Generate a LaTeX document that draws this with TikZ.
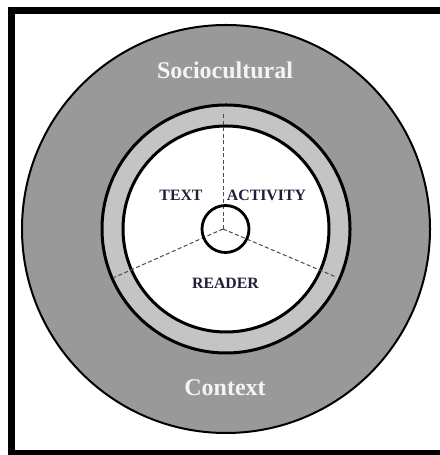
\documentclass[tikz,border=0pt]{standalone}
\usepackage{fontspec}
\setmainfont{Liberation Serif}
\usetikzlibrary{calc}
\definecolor{cdark}{HTML}{999999}
\definecolor{clight}{HTML}{C4C4C4}
\definecolor{cink}{HTML}{1F1F3A}
\definecolor{cpale}{HTML}{F4F4F6}
\definecolor{cdash}{HTML}{4A4A4A}
\tikzset{
  every picture/.style={x=1bp, y=1bp},
  ring/.style={draw=black, line width=#1},
  ring/.default=3bp,
  divider/.style={draw=cdash, line width=1bp, dash pattern=on 4bp off 2.5bp},
  big/.style={font=\fontsize{24bp}{28bp}\selectfont\bfseries, text=cpale, inner sep=0pt},
  part/.style={font=\fontsize{15.8bp}{18bp}\selectfont\bfseries, text=cink, inner sep=0pt},
}
\begin{document}
\begin{tikzpicture}
  \fill[white] (0,0) rectangle (440,455);
  \useasboundingbox (0,0) rectangle (440,455);
  \draw[line width=7bp, line cap=butt] (440,444.5) -- (11,444.5) -- (11,1.5) -- (440,1.5);
  \coordinate (core) at (226,226);
  \coordinate (hub) at (223,226);
  \fill[cdark, ring=2bp] (core) circle (204bp);
  \fill[clight, ring] (core) circle (124bp);
  \fill[white, ring] (core) circle (103bp);
  \coordinate (upend) at ($(hub)+(90:117bp)$);
  \coordinate (leftend) at ($(hub)+(204:119bp)$);
  \coordinate (rightend) at ($(hub)+(337:123bp)$);
  \draw[divider] (hub) -- (upend);
  \draw[divider] (hub) -- (leftend);
  \draw[divider] (hub) -- (rightend);
  \draw[ring=2.8bp] (225.5,226) circle (23.5bp);
  \node[big] (soc) at (225,385) {Sociocultural};
  \node[big] (ctx) at (225,67) {Context};
  \node[part] (txt) at (181,260) {TEXT};
  \node[part] (act) at (266.5,260) {ACTIVITY};
  \node[part] (rdr) at (225.5,172) {READER};
\end{tikzpicture}
\end{document}
